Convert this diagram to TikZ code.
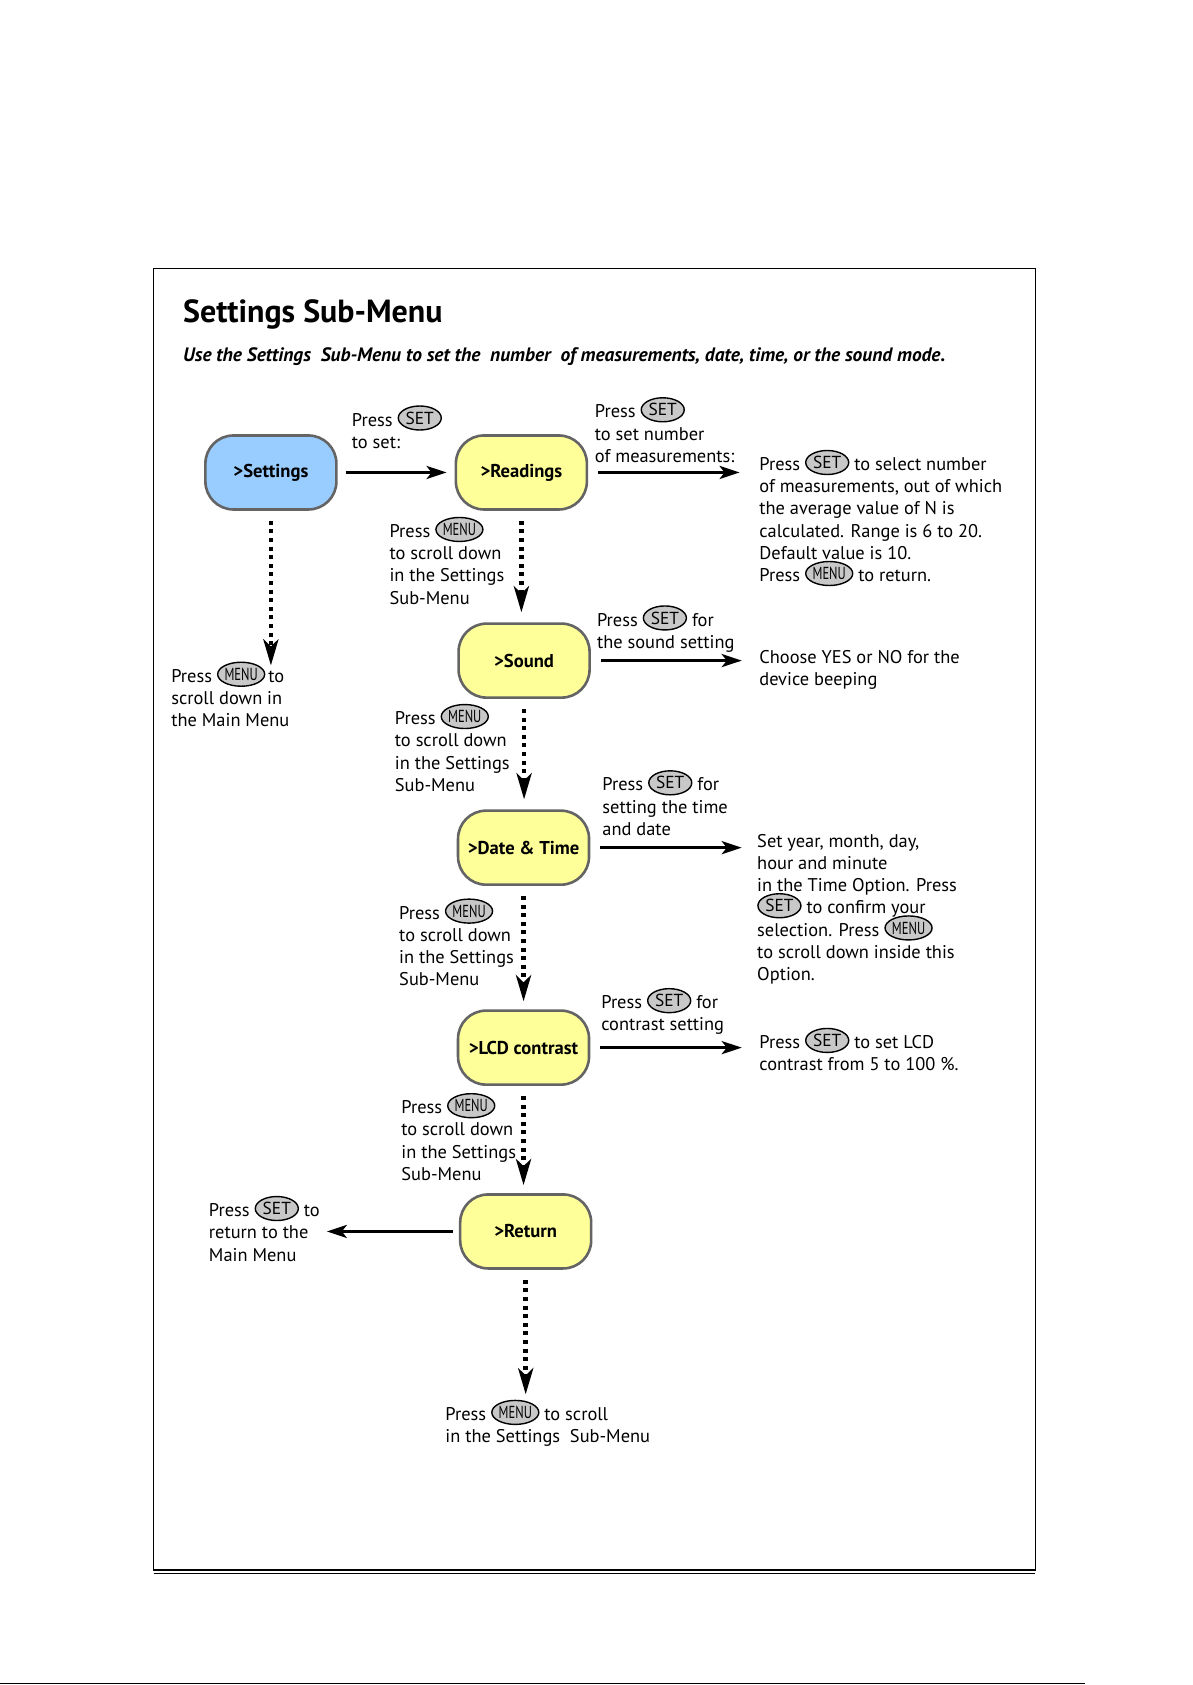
\documentclass[tikz,border=0pt]{standalone}
\usepackage{fontspec}
\setmainfont{PT Sans}
\usepackage{graphicx}
\usetikzlibrary{shapes.geometric,arrows.meta}

\definecolor{menublue}{RGB}{153,204,255}
\definecolor{menuyellow}{RGB}{255,255,153}
\definecolor{boxgray}{RGB}{100,100,100}
\definecolor{keygray}{RGB}{200,200,200}

\newcommand{\notefont}{\fontsize{9.2}{11.1}\selectfont}
\newcommand{\setkey}{\smash{\tikz[baseline=-1pt]\node[keybtn]{SET};}}
\newcommand{\menukey}{\smash{\tikz[baseline=-1pt]\node[keybtn]{\scalebox{0.72}[1]{MENU}};}}

\tikzset{
  keybtn/.style={ellipse, draw, fill=keygray, line width=0.7pt, inner sep=0pt,
    minimum width=21.5pt, minimum height=12pt, font=\fontsize{8.7}{9}\selectfont},
  menubox/.style={rectangle, rounded corners=14pt, draw=boxgray, line width=1.3pt,
    minimum width=65.5pt, minimum height=37pt, font=\bfseries\fontsize{9.3}{10}\selectfont},
  note/.style={align=left, inner sep=0pt, anchor=base west, font=\notefont},
  flow/.style={line width=1.6pt, -{Stealth[length=10pt,width=6.5pt,inset=2.5pt]}},
  scroll/.style={line width=2.2pt, dash pattern=on 2pt off 2.3pt,
    -{Stealth[length=13pt,width=7.5pt,inset=3.5pt]}},
}

\begin{document}
\begin{tikzpicture}[x=0.5375pt,y=-0.5375pt]
  \useasboundingbox (0,0) rectangle (1109,1567.4);
  % frame of the page
  \draw[line width=0.7pt] (143,250) rectangle (963,1460.5);
  \draw[line width=0.6pt] (143,1463.5) -- (963,1463.5);
  \draw[line width=0.8pt] (0,1566) -- (1009,1566);

  % heading
  \node[anchor=base west, inner sep=0pt, font=\bfseries\fontsize{16}{19}\selectfont] (title) at (170,300) {Settings Sub-Menu};
  \node[anchor=base west, inner sep=0pt, font=\bfseries\itshape\fontsize{9.7}{11}\selectfont] (intro) at (170,336)
    {Use the Settings\ \ Sub-Menu to set the\ \ number\ \ of measurements, date, time, or the sound mode.};

  % menu entries
  \node[menubox, fill=menublue] (settings) at (252,439.5) {>Settings};
  \node[menubox, fill=menuyellow] (readings) at (485,439.5) {>Readings};
  \node[menubox, fill=menuyellow] (sound) at (487.5,614.5) {>Sound};
  \node[menubox, fill=menuyellow] (datetime) at (487,788.5) {>Date \& Time};
  \node[menubox, fill=menuyellow] (lcd) at (487,974.5) {>LCD contrast};
  \node[menubox, fill=menuyellow] (ret) at (489,1145.5) {>Return};

  % free ends of the arrows
  \coordinate (readend) at (688,439.5);
  \coordinate (soundend) at (690,614.5);
  \coordinate (dateend) at (690,788.5);
  \coordinate (lcdend) at (690,974.5);
  \coordinate (retend) at (304,1145.5);
  \coordinate (mainend) at (252,619);
  \coordinate (lastend) at (489,1297);

  % solid arrows
  \draw[flow, shorten <=4pt, shorten >=4pt] (settings) -- (readings);
  \draw[flow, shorten <=5pt] (readings) -- (readend);
  \draw[flow, shorten <=5pt] (sound) -- (soundend);
  \draw[flow, shorten <=5pt] (datetime) -- (dateend);
  \draw[flow, shorten <=5pt] (lcd) -- (lcdend);
  \draw[flow, shorten <=3pt] (ret) -- (retend);

  % dotted arrows
  \draw[scroll, shorten <=5pt] (settings.south) -- (mainend);
  \draw[scroll, shorten <=5pt, shorten >=5pt] (readings.south) -- (readings.south |- sound.north);
  \draw[scroll, shorten <=5pt, shorten >=5pt] (sound.south) -- (sound.south |- datetime.north);
  \draw[scroll, shorten <=5pt, shorten >=4pt] (datetime.south) -- (datetime.south |- lcd.north);
  \draw[scroll, shorten <=5pt, shorten >=4pt] (lcd.south) -- (lcd.south |- ret.north);
  \draw[scroll, shorten <=5pt] (ret.south) -- (lastend);

  % texts (placed at the baseline of their last line)
  \node[note] (t1) at (327,417) {Press \setkey\\to set:};
  \node[note] (t2) at (553,430) {Press \setkey\\to set number\\of measurements:};
  \node[note] (t3) at (706,541) {Press \setkey\ to select number\\of measurements, out of which\\the average value of N is\\calculated. Range is 6 to 20.\\Default value is 10.\\Press \menukey\ to return.};
  \node[note] (t4) at (362,562) {Press \menukey\\to scroll down\\in the Settings\\Sub-Menu};
  \node[note] (t5) at (159,676) {Press \menukey\,to\\scroll down in\\the Main Menu};
  \node[note] (t6) at (555,603) {Press \setkey\ for\\the sound setting};
  \node[note] (t7) at (706,638) {Choose YES or NO for the\\device beeping};
  \node[note] (t8) at (367,736) {Press \menukey\\to scroll down\\in the Settings\\Sub-Menu};
  \node[note] (t9) at (560,777) {Press \setkey\ for\\setting the time\\and date};
  \node[note] (t10) at (704,912) {Set year, month, day,\\hour and minute\\in the Time Option. Press\\\setkey\ to confirm your\\selection. Press \menukey\\to scroll down inside this\\Option.};
  \node[note] (t11) at (371,917) {Press \menukey\\to scroll down\\in the Settings\\Sub-Menu};
  \node[note] (t12) at (559,959) {Press \setkey\ for\\contrast setting};
  \node[note] (t13) at (706,996) {Press \setkey\ to set LCD\\contrast from 5 to 100 \%.};
  \node[note] (t14) at (373,1098) {Press \menukey\\to scroll down\\in the Settings\\Sub-Menu};
  \node[note] (t15) at (194,1173) {Press \setkey\ to\\return to the\\Main Menu};
  \node[note] (t16) at (414,1342) {Press \menukey\ to scroll\\in the Settings\ \ Sub-Menu};
\end{tikzpicture}
\end{document}
